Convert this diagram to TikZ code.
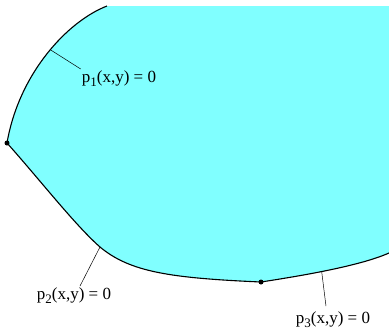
\documentclass[tikz,border=0pt]{standalone}
\usepackage{fontspec}
\setmainfont{Liberation Serif}
\usetikzlibrary{positioning}
\definecolor{regioncyan}{RGB}{128,255,255}
\newcommand{\lowsub}[1]{\raisebox{-4.5pt}{\fontsize{13}{13}\selectfont #1}}

\begin{document}
\begin{tikzpicture}[x=1pt, y=-1pt,
    % styles
    boundary/.style={draw=black, line width=1.1pt},
    leader/.style={draw=black, line width=0.5pt},
    curvelabel/.style={font=\fontsize{17}{20}\selectfont, inner sep=1pt, anchor=base},
    corner/.style={circle, fill=black, inner sep=0pt, minimum size=5pt}
]
\useasboundingbox (0,0) rectangle (389,330);

% ====================
% region
% ====================
\fill[regioncyan] (389,6) -- (107,6)
    .. controls (68,21) and (19,73) .. (7,143)
    .. controls (40,180) and (75,225) .. (100,247)
    .. controls (130,272) and (170,278) .. (261,282)
    .. controls (300,276) and (360,266) .. (389,253) -- cycle;

% ====================
% boundary curves
% ====================
\draw[boundary] (107,6) .. controls (68,21) and (19,73) .. (7,143) coordinate[pos=0.47] (c1);
\draw[boundary] (7,143) .. controls (40,180) and (75,225) .. (100,247) coordinate (c2)
    .. controls (130,272) and (170,278) .. (261,282);
\draw[boundary] (261,282) .. controls (300,276) and (360,266) .. (389,253) coordinate[pos=0.45] (c3);

\node[corner] (v12) at (7,143) {};
\node[corner] (v23) at (261,282) {};

% ====================
% labels
% ====================
\node[curvelabel] (l1) at (119,82) {p\lowsub{1}(x,y) = 0};
\node[curvelabel] (l2) at (74,299) {p\lowsub{2}(x,y) = 0};
\node[curvelabel] (l3) at (333,323) {p\lowsub{3}(x,y) = 0};

\draw[leader] (c1) -- (l1.north west);
\draw[leader] (c2) -- ([xshift=6pt]l2.north);
\draw[leader] (c3) -- ([xshift=-7pt,yshift=4pt]l3.north);

\end{tikzpicture}
\end{document}
